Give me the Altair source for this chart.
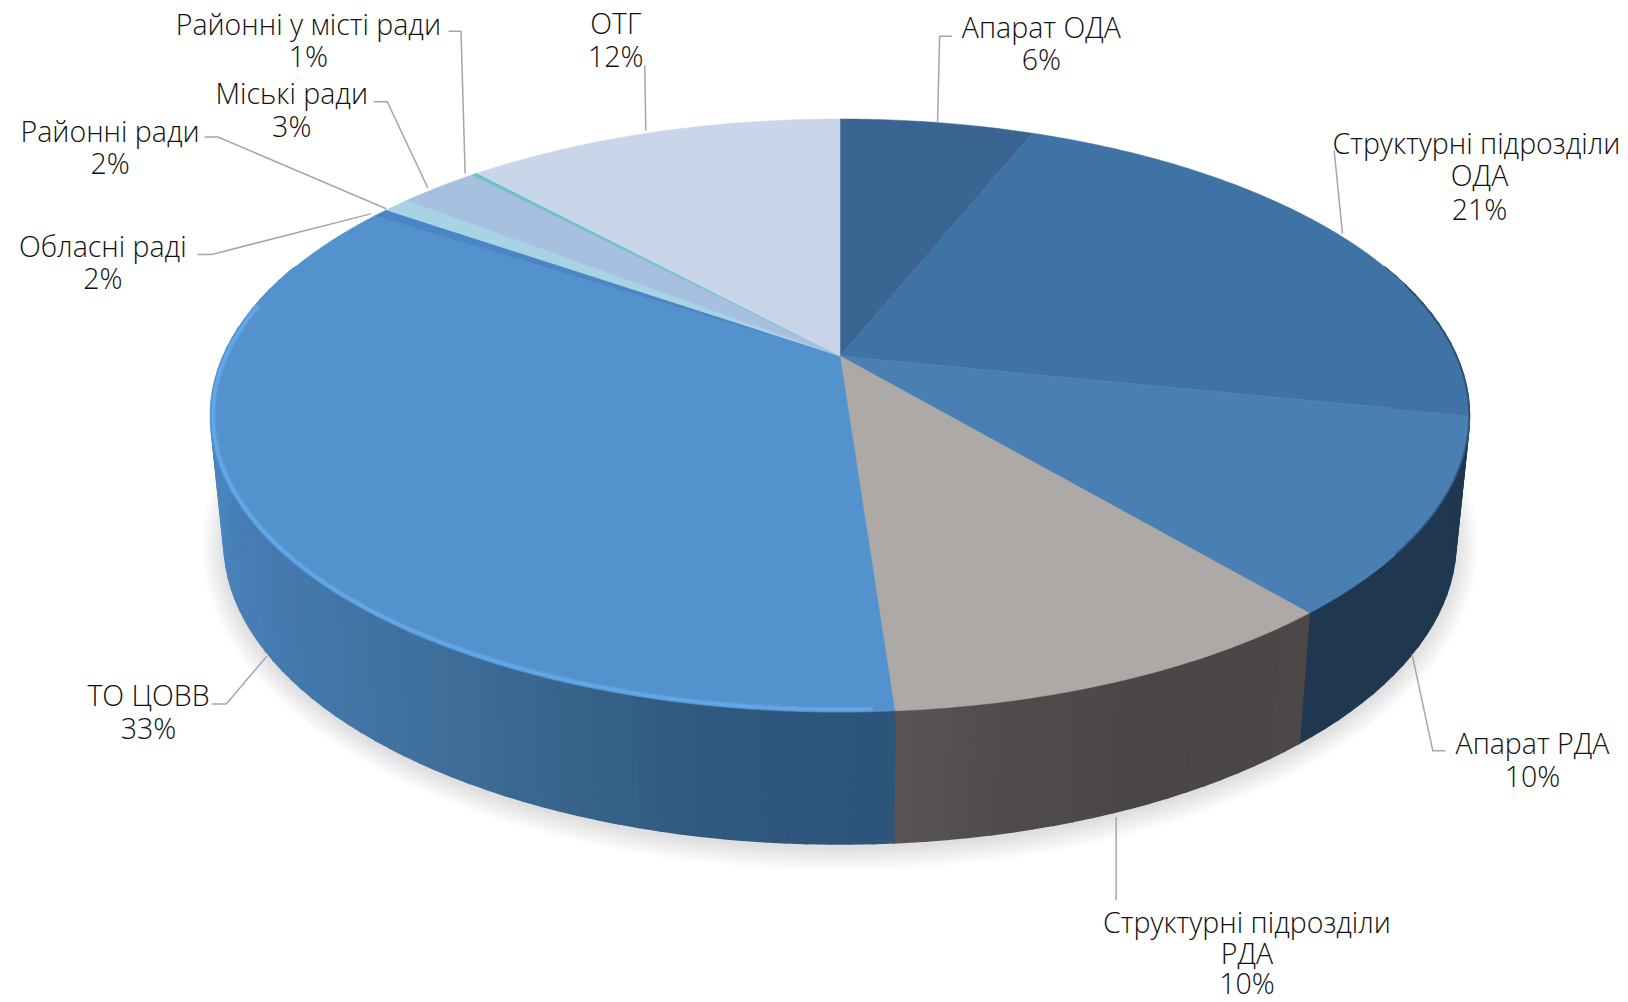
import math
import altair as alt

# --- values ---
categories = ["Апарат ОДА", "Структурні підрозділи ОДА", "Апарат РДА", "Структурні підрозділи РДА",
              "ТО ЦОВВ", "Обласні ради", "Районні ради", "Міські ради", "Районні у місті ради", "ОТГ"]
shares = [6, 21, 10, 10, 33, 2, 2, 3, 1, 12]
# rim position of each slice start / end (degrees clockwise from the top of the drawn ellipse)
rim_start = [0, 17.8, 90, 131.8, 175, 312.3, 313.9, 316.5, 324.2, 324.8]
rim_end = [17.8, 90, 131.8, 175, 312.3, 313.9, 316.5, 324.2, 324.8, 360]
top_colors = ["#3A6491", "#3F73A5", "#4A7FB3", "#ADA9A6", "#5492CD",
              "#4A86C6", "#A8D3E5", "#A7C0E0", "#6FC0CC", "#C9D6EA"]
# wall colours: (degree on rim, colour)
wall_stops = [(60, "#1F3850"), (131.8, "#1F3850"), (131.81, "#4C4848"), (150, "#4A4646"), (165, "#514C4C"),
              (175, "#5A5554"), (175.01, "#2D5479"), (193, "#30597F"), (219, "#3F6E9A"), (241, "#4479AD"),
              (268, "#4B84BE"), (300, "#4B84BE")]

label_lines = [
    ("Апарат ОДА", 1003, 26), ("6%", 1003, 57),
    ("Структурні підрозділи", 1422, 138), ("ОДА", 1425, 169), ("21%", 1425, 201),
    ("Апарат РДА", 1476, 716), ("10%", 1476, 747),
    ("Структурні підрозділи", 1201, 888), ("РДА", 1201, 918), ("10%", 1201, 947),
    ("ТО ЦОВВ", 143, 669), ("33%", 143, 701),
    ("Обласні раді", 99, 237), ("2%", 99, 268),
    ("Районні ради", 106, 126), ("2%", 106, 157),
    ("Міські ради", 281, 90), ("3%", 281, 121),
    ("Районні у місті ради", 297, 23), ("1%", 297, 54),
    ("ОТГ", 593, 22), ("12%", 593, 54),
]
leader_paths = [
    [(917, 35), (905, 35), (903, 118)],
    [(1285, 145), (1293, 225)],
    [(1392, 723), (1380, 723), (1360, 630)],
    [(1075, 867), (1075, 787)],
    [(204, 678), (218, 678), (257, 632)],
    [(190, 245), (204, 245), (357, 206)],
    [(197, 132), (210, 132), (372, 201)],
    [(360, 98), (373, 98), (412, 181)],
    [(432, 30), (444, 30), (448, 167)],
    [(621, 63), (622, 126)],
]
view_scale = 1628 / 1568  # reading scale of the label positions above
top_ellipse = dict(cx=840, cy=415.5, rx=629.5, ry=296.5)
low_ellipse = dict(cx=840, cy=542, rx=616, ry=302)
apex = (840, 356)
FONT = "Open Sans"
FONT_SIZE = 28.5
FONT_WEIGHT = 300
TEXT_SHIFT = 2


def rim(e, deg, shrink=0.0):
    a = math.radians(deg)
    return [e["cx"] + (e["rx"] - shrink) * math.sin(a), e["cy"] - (e["ry"] - shrink) * math.cos(a)]


def arc(e, a, b, shrink=0.0):
    n = max(2, int(abs(b - a) * 2))
    return [rim(e, a + (b - a) * i / n, shrink) for i in range(n + 1)]


def mix(c1, c2, f):
    p = [int(c1[i:i + 2], 16) for i in (1, 3, 5)]
    q = [int(c2[i:i + 2], 16) for i in (1, 3, 5)]
    return "#%02X%02X%02X" % tuple(round(p[i] + (q[i] - p[i]) * f) for i in range(3))


def wall_color(deg):
    for (a, ca), (b, cb) in zip(wall_stops, wall_stops[1:]):
        if a <= deg <= b:
            return mix(ca, cb, (deg - a) / (b - a))
    return wall_stops[-1][1]


def poly(points, color):
    return {"type": "Feature", "properties": {"c": color},
            "geometry": {"type": "Polygon", "coordinates": [points + [points[0]]]}}


def line(points):
    return {"type": "Feature", "properties": {"c": "#000"},
            "geometry": {"type": "LineString", "coordinates": points}}


def fc(features):
    return alt.InlineData(values={"type": "FeatureCollection", "features": features},
                          format=alt.DataFormat(property="features"))


proj = alt.Projection(type="identity", scale=1, translate=[-8, -8]).to_dict()

# soft ground shadow: growing ellipses
shadow = []
for k in range(1, 25, 3):
    e = dict(cx=840, cy=546, rx=616 + k, ry=302 + k)
    shadow.append(poly(arc(e, 0, 360), "#000000"))
shadow_layer = alt.Chart(fc(shadow)).mark_geoshape(opacity=0.016, strokeWidth=0).encode(
    fill=alt.Fill("properties.c:N", scale=None)).project(**proj)

# wall strips between the top rim and the bottom rim
walls = []
d = 60.0
while d < 300:
    d2 = min(d + 2.0, 300.0)
    for brk in (131.8, 175.0):
        if d < brk < d2:
            d2 = brk
    walls.append(poly([rim(top_ellipse, d), rim(top_ellipse, d2), rim(low_ellipse, d2), rim(low_ellipse, d)],
                      wall_color((d + d2) / 2)))
    d = d2
wall_layer = alt.Chart(fc(walls)).mark_geoshape(strokeWidth=1.6).encode(
    fill=alt.Fill("properties.c:N", scale=None), stroke=alt.Stroke("properties.c:N", scale=None)
).project(**proj)

# slices of the top face
tops = [poly([list(apex)] + arc(top_ellipse, a, b), c) for a, b, c in zip(rim_start, rim_end, top_colors)]
top_layer = alt.Chart(fc(tops)).mark_geoshape(strokeWidth=0.5).encode(
    fill=alt.Fill("properties.c:N", scale=None), stroke=alt.Stroke("properties.c:N", scale=None)
).project(**proj)

# bright bevel on the big slice and dark edge on the right
bevel = [line(arc(top_ellipse, 177, 292, 2.5))]
bevel_wide = alt.Chart(fc(bevel)).mark_geoshape(filled=False, stroke="#67AEF0", strokeWidth=6, opacity=0.3).project(**proj)
bevel_thin = alt.Chart(fc(bevel)).mark_geoshape(filled=False, stroke="#67AEF0", strokeWidth=3, opacity=0.7).project(**proj)
edge = [line(arc(top_ellipse, 64, 118, 0.5))]
edge_layer = alt.Chart(fc(edge)).mark_geoshape(filled=False, stroke="#27445F", strokeWidth=1.6, opacity=0.6).project(**proj)

# leader lines
leaders = [line([[x * view_scale, y * view_scale] for x, y in path]) for path in leader_paths]
leader_layer = alt.Chart(fc(leaders)).mark_geoshape(filled=False, stroke="#A6A6A6", strokeWidth=1.5).project(**proj)

# labels
rows = [{"t": t, "lon": x * view_scale, "lat": y * view_scale + TEXT_SHIFT} for t, x, y in label_lines]
text_layer = alt.Chart(alt.Data(values=rows)).mark_text(
    font=FONT, fontSize=FONT_SIZE, fontWeight=FONT_WEIGHT, color="#111111", align="center", baseline="middle"
).encode(longitude="lon:Q", latitude="lat:Q", text="t:N").project(**proj)

chart = alt.layer(shadow_layer, wall_layer, top_layer, bevel_wide, bevel_thin, edge_layer,
                  leader_layer, text_layer).properties(
    width=1612, height=986, padding=0, autosize=alt.AutoSizeParams(type="none"),
    background="#FFFFFF"
).configure_view(stroke=None)

chart.save("out.html", embed_options={"renderer": "svg", "actions": False})
